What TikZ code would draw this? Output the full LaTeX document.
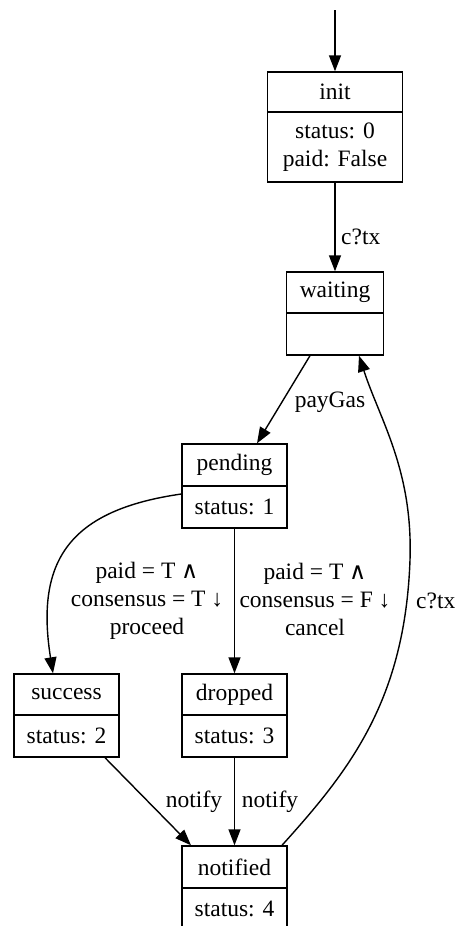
\documentclass[tikz,border=0pt]{standalone}
\usepackage{fontspec}
\setmainfont{Liberation Serif}
\newfontfamily\symf{DejaVu Sans}
\usetikzlibrary{arrows.meta}
\tikzset{
  part/.style={draw, line width=1.4pt, inner sep=0pt, align=center, font=\fontsize{23.5}{28}\selectfont},
  lbl/.style={inner sep=0pt, align=center, font=\fontsize{23.5}{28}\selectfont},
  edge/.style={line width=1.4pt, -{Triangle[length=16pt,width=12pt]}}
}
\begin{document}
\begin{tikzpicture}[x=1pt,y=-1pt]
\useasboundingbox (0,0) rectangle (456,926);
% init
\node[part, minimum width=135pt, minimum height=40pt] (initT) at (335,92) {init};
\node[part, minimum width=135pt, minimum height=70pt] (initB) at (335,147) {status: 0\\paid: False};
% waiting
\node[part, minimum width=97pt, minimum height=41pt] (waitT) at (335,292.5) {waiting};
\node[part, minimum width=97pt, minimum height=42pt] (waitB) at (335,334) {};
% pending
\node[part, minimum width=105pt, minimum height=42pt] (pendT) at (234.5,465) {pending};
\node[part, minimum width=105pt, minimum height=42pt] (pendB) at (234.5,507) {status: 1};
% success
\node[part, minimum width=105pt, minimum height=41pt] (succT) at (66.5,694.5) {success};
\node[part, minimum width=105pt, minimum height=42pt] (succB) at (66.5,736) {status: 2};
% dropped
\node[part, minimum width=105pt, minimum height=41pt] (dropT) at (234.5,694.5) {dropped};
\node[part, minimum width=105pt, minimum height=42pt] (dropB) at (234.5,736) {status: 3};
% notified
\node[part, minimum width=105pt, minimum height=42pt] (notT) at (234.5,867) {notified};
\node[part, minimum width=105pt, minimum height=42pt] (notB) at (234.5,909) {status: 4};
% edges
\coordinate (start) at (335,10);
\draw[edge] (start) -- (initT.north);
\draw[edge] (initB.south) -- (waitT.north);
\node[lbl, anchor=west] (l1) at (341,237) {c?tx};
\draw[edge] ([xshift=-25pt]waitB.south) -- ([xshift=22.5pt]pendT.north);
\node[lbl] (l2) at (330,402) {payGas};
\draw[edge] ([yshift=13pt]pendB.west) .. controls (70,510) and (35,560) .. ([xshift=-13.5pt]succT.north);
\node[lbl] (l3) at (147,601) {paid = T {\symf ∧}\\consensus = T ↓\\proceed};
\draw[edge] (pendB.south) -- (dropT.north);
\node[lbl] (l4) at (315,599) {paid = T {\symf ∧}\\consensus = F ↓\\cancel};
\draw[edge] ([xshift=38.5pt]succB.south) -- ([xshift=-43.5pt]notT.north);
\node[lbl] (l5) at (194,802) {notify};
\draw[edge] (dropB.south) -- (notT.north);
\node[lbl] (l6) at (270,802) {notify};
\draw[edge] ([xshift=47.5pt]notT.north) .. controls (350,770) and (405,700) .. (410,560) .. controls (413,470) and (380,420) .. ([xshift=24pt]waitB.south);
\node[lbl, anchor=east] (l7) at (455.5,601) {c?tx};
\end{tikzpicture}
\end{document}
